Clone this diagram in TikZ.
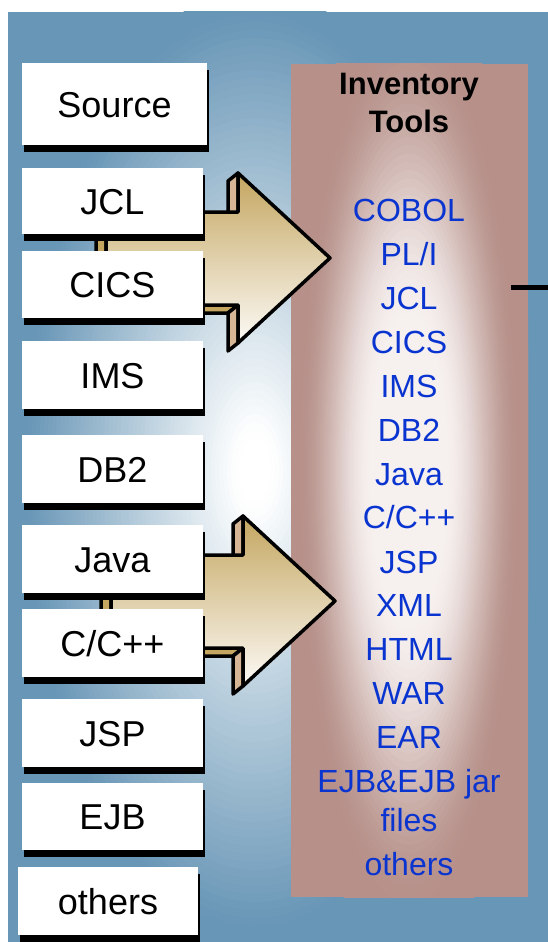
\documentclass[tikz,border=0pt]{standalone}
\usepackage{fontspec}
\setmainfont{Liberation Sans}
\usetikzlibrary{shadows}
\definecolor{bluebg}{RGB}{104,150,182}
\definecolor{pinkc}{RGB}{182,144,137}
\definecolor{pinkwhite}{RGB}{246,240,239}
\definecolor{listblue}{RGB}{10,52,208}
\definecolor{goldc}{RGB}{196,166,96}
\definecolor{goldlight}{RGB}{252,250,246}
\definecolor{tanface}{RGB}{214,182,148}
\tikzset{
  srcbox/.style={fill=white, inner sep=0pt, text height=26pt, text depth=0pt,
    font=\fontsize{36}{40}\selectfont,
    drop shadow={shadow xshift=2pt, shadow yshift=-7pt, opacity=1, fill=black}},
  listitem/.style={anchor=base, text=listblue, inner sep=0pt, font=\fontsize{32}{36}\selectfont},
  titleitem/.style={anchor=base, inner sep=0pt, font=\bfseries\fontsize{31}{36}\selectfont},
  outl/.style={draw=black, line width=3.5pt, line join=round},
  stub/.style={line width=5pt}
}
\begin{document}
\begin{tikzpicture}[x=1pt,y=-1pt]
\useasboundingbox (0,0) rectangle (548,942);
\fill[white] (0,0) rectangle (548,942);
\fill[bluebg] (8,12) rectangle (548,942);
% blue glow
\begin{scope}
  \clip (8,12) rectangle (548,942);
  \foreach \i in {0,...,60} {
    \pgfmathsetmacro{\rr}{1-\i/60}
    \pgfmathsetmacro{\ss}{max(0,min(1,(\rr-0.08)/0.88))}
    \pgfmathsetmacro{\pp}{100*\ss}
    \fill[bluebg!\pp!white] (255,470) ellipse [x radius={240*\rr}, y radius={480*\rr}];
  }
\end{scope}
% panel
\fill[pinkc] (291,64) rectangle (528,897);
\begin{scope}
  \clip (291,64) rectangle (528,897);
  \foreach \i in {0,...,60} {
    \pgfmathsetmacro{\rr}{1-\i/60}
    \pgfmathsetmacro{\ss}{max(0,min(1,(\rr-0.3)/0.6))}
    \pgfmathsetmacro{\pp}{100*\ss*\ss*(3-2*\ss)}
    \fill[pinkc!\pp!pinkwhite] (409,470) ellipse [x radius={125*\rr}, y radius={500*\rr}];
  }
\end{scope}
% arrows
\foreach \dx/\dy in {0/0,5/343}{
  \begin{scope}[shift={(\dx,\dy)}]
    \filldraw[outl, fill=goldc] (106,212) -- (106,305) -- (96,313) -- (96,220) -- cycle;
    \filldraw[outl, fill=goldc] (106,305) -- (238,305) -- (228,313) -- (96,313) -- cycle;
    \filldraw[outl, fill=tanface] (238,173) -- (238,212) -- (228,220) -- (228,181) -- cycle;
    \filldraw[outl, fill=tanface] (238,305) -- (238,343) -- (228,351) -- (228,313) -- cycle;
    \shade[top color=goldc, bottom color=goldlight] (106,212) -- (238,212) -- (238,173) -- (330,258) -- (238,343) -- (238,305) -- (106,305) -- cycle;
    \draw[outl] (106,212) -- (238,212) -- (238,173) -- (330,258) -- (238,343) -- (238,305) -- (106,305) -- cycle;
  \end{scope}
}
% source boxes
\node[srcbox, minimum width=185pt, minimum height=82pt] (source) at (114.5,104) {Source};
\node[srcbox, minimum width=181pt, minimum height=66pt] (jcl) at (112.5,201) {JCL};
\node[srcbox, minimum width=181pt, minimum height=67pt] (cics) at (112.5,284.5) {CICS};
\node[srcbox, minimum width=181pt, minimum height=68pt] (ims) at (112.5,375) {IMS};
\node[srcbox, minimum width=181pt, minimum height=68pt] (db2) at (112.5,469) {DB2};
\node[srcbox, minimum width=181pt, minimum height=68pt] (java) at (112.5,559) {Java};
\node[srcbox, minimum width=181pt, minimum height=68pt] (cpp) at (112.5,643) {C/C++};
\node[srcbox, minimum width=181pt, minimum height=68pt] (jsp) at (112.5,733) {JSP};
\node[srcbox, minimum width=181pt, minimum height=67pt] (ejb) at (112.5,816.5) {EJB};
\node[srcbox, minimum width=180pt, minimum height=68pt] (others) at (108,901) {others};
% title
\node[titleitem] (t1) at (409,95) {Inventory};
\node[titleitem] (t2) at (409,132) {Tools};
% list
\node[listitem] (l1) at (409,221) {COBOL};
\node[listitem] (l2) at (409,265) {PL/I};
\node[listitem] (l3) at (409,309) {JCL};
\node[listitem] (l4) at (409,353) {CICS};
\node[listitem] (l5) at (409,397) {IMS};
\node[listitem] (l6) at (409,441) {DB2};
\node[listitem] (l7) at (409,485) {Java};
\node[listitem] (l8) at (409,528) {C/C++};
\node[listitem] (l9) at (409,573) {JSP};
\node[listitem] (l10) at (409,616) {XML};
\node[listitem] (l11) at (409,660) {HTML};
\node[listitem] (l12) at (409,704) {WAR};
\node[listitem] (l13) at (409,748) {EAR};
\node[listitem] (l14) at (409,792) {EJB\&EJB jar};
\node[listitem] (l15) at (409,831) {files};
\node[listitem] (l16) at (409,875) {others};
% stub line
\coordinate (stubA) at (511,287);
\coordinate (stubB) at (548,287);
\draw[stub] (stubA) -- (stubB);
\end{tikzpicture}
\end{document}
